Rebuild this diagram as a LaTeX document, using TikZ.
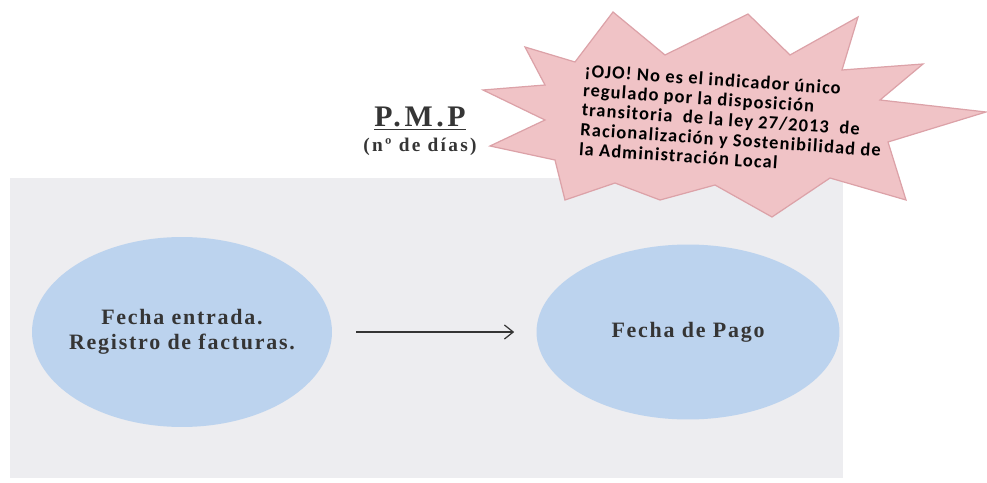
\documentclass[tikz,border=0pt]{standalone}
\usepackage{fontspec}
\setmainfont{Liberation Serif}
\newfontfamily\calloutfont[LetterSpace=6]{Carlito}
\newfontfamily\spacedserif[LetterSpace=12]{Liberation Serif}
\newfontfamily\boxserif[LetterSpace=8]{Liberation Serif}
\usepackage{tikz}
\usetikzlibrary{arrows.meta,positioning,shapes.geometric}
\definecolor{panelgray}{HTML}{EDEDF0}
\definecolor{ellipseblue}{HTML}{BCD3EE}
\definecolor{starpink}{HTML}{F0C3C6}
\definecolor{staredge}{HTML}{DCA2A8}
\definecolor{textdark}{HTML}{353535}

\begin{document}
\begin{tikzpicture}[x=0.02cm, y=-0.02cm,
    datebox/.style={ellipse, fill=ellipseblue, draw=none, text=textdark, align=center,
        inner xsep=-20pt, inner ysep=0pt,
        font=\boxserif\bfseries\fontsize{12.5}{14}\selectfont}]
    \useasboundingbox (0,0) rectangle (987,483);

    % Panel
    \fill[panelgray] (10,178) rectangle (843,478);

    % Title
    \node[font=\spacedserif\bfseries\fontsize{17}{19}\selectfont, text=textdark] (title) at (420,119) {\underline{P.M.P}};
    \node[below=-3pt of title, font=\spacedserif\bfseries\fontsize{11}{13}\selectfont, text=textdark] (unit) {(nº de días)};

    % Callout star
    \draw[fill=starpink, draw=staredge, line width=0.7pt]
        (525,47) -- (575,62) -- (613,12) -- (665,55) -- (748,14) -- (790,55)
        -- (858,17) -- (842,70) -- (923,64) -- (880,100) -- (986,112) -- (888,142)
        -- (906,200) -- (830,178) -- (772,217) -- (715,185) -- (660,200) -- (615,183)
        -- (565,200) -- (555,160) -- (490,146) -- (545,120) -- (483,90) -- (545,85) -- cycle;
    \node[font=\calloutfont\bfseries\fontsize{10.5}{11.2}\selectfont, align=left, rotate=-4] (note) at (732,120)
        {¡OJO! No es el indicador único\\
         regulado por la disposición\\
         transitoria\ \ de la ley 27/2013 \ de\\
         Racionalización y Sostenibilidad de\\
         la Administración Local};

    % Dates
    \node[datebox, minimum width=6cm, minimum height=3.8cm] (entry) at (182,332)
        {Fecha entrada.\\Registro de facturas.};
    \node[datebox, minimum width=6.06cm, minimum height=3.5cm] (payment) at (688,332)
        {Fecha de Pago};

    % Arrow
    \draw[-{Straight Barb[length=5pt, width=8pt]}, textdark, line width=0.7pt,
        shorten <=0.48cm, shorten >=0.44cm] (entry.east) -- (payment.west);
\end{tikzpicture}
\end{document}
